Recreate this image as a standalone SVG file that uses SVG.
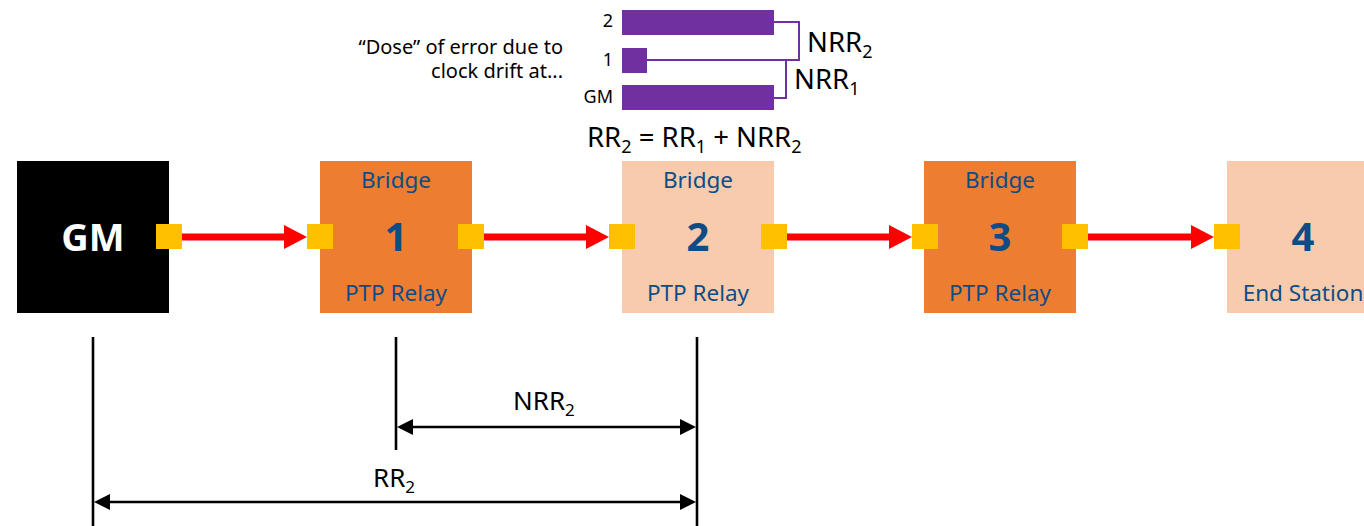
<svg xmlns="http://www.w3.org/2000/svg" width="1364" height="526" viewBox="0 0 1364 526">
<style>
text{font-family:"Noto Sans","Open Sans","DejaVu Sans",sans-serif}
.lbl{fill:#0E4C86;font-size:22.5px;text-anchor:middle}
.num{fill:#0E4C86;font-size:40px;font-weight:bold;text-anchor:middle}
.port{fill:#FFC000}
.red{stroke:#FF0000;stroke-width:7;fill:none}
.dim{stroke:#000;stroke-width:2.6;fill:none}
.big{font-size:27.5px;fill:#000}
.small{font-size:18px;fill:#000;text-anchor:end}
.dose{font-size:20px;fill:#000;text-anchor:end}
.bar{fill:#7030A0}
.brk{stroke:#7030A0;stroke-width:2;fill:none}
</style>
<defs>
<marker id="ra" markerUnits="userSpaceOnUse" markerWidth="24" markerHeight="24" refX="0" refY="12" orient="auto" overflow="visible">
<path d="M0,0 L23,12 L0,24 Z" fill="#FF0000"/>
</marker>
<marker id="ba" markerUnits="userSpaceOnUse" markerWidth="16" markerHeight="16" refX="0" refY="8" orient="auto-start-reverse" overflow="visible">
<path d="M0,0 L16,8 L0,16 Z" fill="#000"/>
</marker>
</defs>
<rect width="1364" height="526" fill="#fff"/>

<g id="dose">
<text class="dose" x="563" y="54">“Dose” of error due to</text>
<text class="dose" x="563" y="78">clock drift at...</text>
<text class="small" x="613" y="27">2</text>
<text class="small" x="613" y="66">1</text>
<text class="small" x="613" y="103">GM</text>
<rect class="bar" x="622" y="10" width="152" height="25"/>
<rect class="bar" x="622" y="48" width="25" height="25"/>
<rect class="bar" x="622" y="85" width="152" height="25"/>
<path class="brk" d="M774,22 H799 V60 H647"/>
<path class="brk" d="M786,60 V98 H774"/>
<text class="big" x="807" y="52">NRR<tspan font-size="18" dy="6">2</tspan></text>
<text class="big" x="794" y="89">NRR<tspan font-size="18" dy="6">1</tspan></text>
<text class="big" x="587" y="147">RR<tspan font-size="18" dy="6">2</tspan><tspan dy="-6"> = RR</tspan><tspan font-size="18" dy="6">1</tspan><tspan dy="-6"> + NRR</tspan><tspan font-size="18" dy="6">2</tspan></text>
</g>

<g id="gm">
<rect x="17" y="161" width="152" height="152" fill="#000"/>
<text x="93" y="251" fill="#fff" font-size="38" font-weight="bold" text-anchor="middle">GM</text>
</g>
<g id="bridge1">
<rect x="320" y="161" width="152" height="152" fill="#ED7D31"/>
<text class="lbl" x="396" y="188">Bridge</text>
<text class="num" x="396" y="251">1</text>
<text class="lbl" x="396" y="301">PTP Relay</text>
</g>
<g id="bridge2">
<rect x="622" y="161" width="152" height="152" fill="#F8CBAD"/>
<text class="lbl" x="698" y="188">Bridge</text>
<text class="num" x="698" y="251">2</text>
<text class="lbl" x="698" y="301">PTP Relay</text>
</g>
<g id="bridge3">
<rect x="924" y="161" width="152" height="152" fill="#ED7D31"/>
<text class="lbl" x="1000" y="188">Bridge</text>
<text class="num" x="1000" y="251">3</text>
<text class="lbl" x="1000" y="301">PTP Relay</text>
</g>
<g id="endstation4">
<rect x="1227" y="161" width="152" height="152" fill="#F8CBAD"/>
<text class="num" x="1303" y="251">4</text>
<text class="lbl" x="1303" y="301">End Station</text>
</g>

<g id="connectors">
<line class="red" x1="182" y1="237" x2="284" y2="237" marker-end="url(#ra)"/>
<line class="red" x1="484" y1="237" x2="586" y2="237" marker-end="url(#ra)"/>
<line class="red" x1="787" y1="237" x2="889" y2="237" marker-end="url(#ra)"/>
<line class="red" x1="1088" y1="237" x2="1191" y2="237" marker-end="url(#ra)"/>
</g>

<g id="ports">
<rect class="port" x="156" y="224" width="26" height="25"/>
<rect class="port" x="307" y="224" width="26" height="25"/>
<rect class="port" x="458" y="224" width="26" height="25"/>
<rect class="port" x="609" y="224" width="26" height="25"/>
<rect class="port" x="761" y="224" width="26" height="25"/>
<rect class="port" x="912" y="224" width="26" height="25"/>
<rect class="port" x="1062" y="224" width="26" height="25"/>
<rect class="port" x="1214" y="224" width="26" height="25"/>
</g>

<g id="dimensions">
<line class="dim" x1="93" y1="337" x2="93" y2="526"/>
<line class="dim" x1="396" y1="337" x2="396" y2="450"/>
<line class="dim" x1="697" y1="337" x2="697" y2="526"/>
<line class="dim" x1="413" y1="427" x2="680" y2="427" marker-start="url(#ba)" marker-end="url(#ba)"/>
<line class="dim" x1="110" y1="502" x2="680" y2="502" marker-start="url(#ba)" marker-end="url(#ba)"/>
<text class="big" x="513" y="410" style="font-size:26px">NRR<tspan font-size="17" dy="6">2</tspan></text>
<text class="big" x="373" y="487" style="font-size:26px">RR<tspan font-size="17" dy="6">2</tspan></text>
</g>
</svg>
